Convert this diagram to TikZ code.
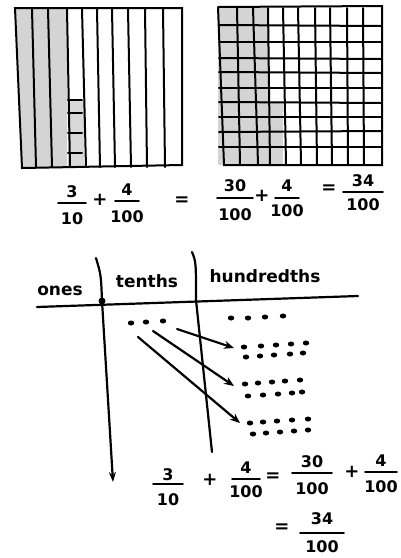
\documentclass[tikz,border=0pt]{standalone}
\usepackage{fontspec}
\setmainfont{DejaVu Sans}
\usetikzlibrary{arrows.meta,shapes.geometric}
\newcommand\myfrac[8]{%
  \node[fr] (#1n) at (#2,#3) {#7};
  \node[fr] (#1d) at (#2,#5) {#8};
  \draw[thin ink] (#2-#6,#4) -- (#2+#6,#4);}
\begin{document}
\begin{tikzpicture}[x=1pt,y=-1pt,
  ink/.style={line width=2.2pt,line cap=round,line join=round},
  grid ink/.style={line width=2pt,line cap=round},
  thin ink/.style={line width=1.8pt,line cap=round},
  shadefill/.style={fill=black!17},
  fr/.style={font=\fontsize{16}{16}\selectfont\bfseries,inner sep=0pt},
  op/.style={font=\fontsize{18}{18}\selectfont\bfseries,inner sep=0pt},
  lbl/.style={font=\fontsize{17}{17}\selectfont\bfseries,inner sep=0pt},
  dot/.style={ellipse,fill=black,inner sep=0pt,minimum width=6.5pt,minimum height=5pt},
  arr/.style={ink,-{Stealth[length=10pt,width=8pt]}}]
\useasboundingbox[fill=white] (0,0) rectangle (400,558);

% ---- left square: tenths ----
\fill[shadefill] (15,8) -- (67,8) -- (67,168) -- (22,168) -- cycle;
\fill[black!15] (68,100) rectangle (84,167);
\draw[grid ink] (15,8) -- (182,8) -- (182,165) -- (22,168) -- cycle;
\foreach \x/\b in {32/36,48/52,67/70,82/86,97/100,112/115,128/131,145/147,163/165}
  \draw[grid ink] (\x,9) -- (\b,167);
\foreach \y in {100,113,133,153}
  \draw[grid ink] (68,\y) -- (82,\y);

% ---- right square: hundredths ----
\fill[shadefill] (218,7) rectangle (268,165);
\fill[shadefill] (268,102) rectangle (283,165);
\draw[grid ink] (218,7) -- (382,6) -- (382,165) -- (224,165) -- (218,7);
\foreach \x/\b in {237/240,253/258,268/270,283/286,298/301,315/317,330/332,347/348,363/364}
  \draw[grid ink] (\x,8) -- (\b,164);
\foreach \y/\c in {25/26,42/42,58/59,72/73,88/88,102/103,117/117,132/131,147/147}
  \draw[grid ink] (219,\y) -- (381,\c);

% ---- top equation ----
\myfrac{a}{72}{192}{203}{219}{14}{3}{10}
\node[op] (p1) at (100,200) {+};
\myfrac{b}{127}{190}{201}{217}{12}{4}{100}
\node[op] (e1) at (182,201) {=};
\myfrac{c}{235}{186}{198}{215}{18}{30}{100}
\node[op] (p2) at (262,196) {+};
\myfrac{d}{287}{186}{198}{211}{12}{4}{100}
\node[op] (e2) at (329,189) {=};
\myfrac{e}{363}{181}{192}{205}{20}{34}{100}

% ---- place value chart ----
\coordinate (hl) at (37,307);
\coordinate (hr) at (358,296);
\draw[ink] (hl) -- (hr);
\coordinate (v1t) at (96,258);
\coordinate (v1b) at (113,482);
\draw[ink,-{Stealth[length=10pt,width=7pt,open]}] (v1t) .. controls (101,275) .. (102,301) -- (v1b);
\coordinate (v2t) at (192,252);
\coordinate (v2b) at (212,452);
\draw[ink] (v2t) .. controls (196,262) .. (196,300) -- (v2b);
\node[circle,fill=black,inner sep=0pt,minimum size=7pt] (origin) at (102,301) {};

\node[lbl] (ones) at (60,291) {ones};
\node[lbl] (tenths) at (147,281) {tenths};
\node[lbl] (hund) at (265,276) {hundredths};

% tenths dots
\node[dot] (t1) at (131,323) {};
\node[dot] (t2) at (146,322) {};
\node[dot] (t3) at (163,321) {};
% hundredths top row
\foreach \x/\y [count=\i] in {231/318,248/318,265/317,283/316}
  \node[dot] (h\i) at (\x,\y) {};
% group 1
\foreach \x/\y [count=\i] in {244/347,261/346,276/345,291/344,306/343,246/357,260/356,274/355,290/354,303/353}
  \node[dot] (ga\i) at (\x,\y) {};
% group 2
\foreach \x/\y [count=\i] in {245/384,258/383,272/382,285/381,300/380,248/396,263/395,278/394,292/393,302/392}
  \node[dot] (gb\i) at (\x,\y) {};
% group 3
\foreach \x/\y [count=\i] in {250/423,263/422,277/421,292/420,308/419,253/434,266/433,280/432,294/431,308/430}
  \node[dot] (gc\i) at (\x,\y) {};

% arrows
\coordinate (a1s) at (177,329);
\coordinate (a1e) at (234,348);
\coordinate (a2s) at (153,331);
\coordinate (a2e) at (234,386);
\coordinate (a3s) at (138,337);
\coordinate (a3e) at (240,423);
\draw[arr] (a1s) -- (a1e);
\draw[arr] (a2s) -- (a2e);
\draw[arr] (a3s) -- (a3e);

% ---- bottom equation ----
\myfrac{f}{168}{475}{484}{500}{15}{3}{10}
\node[op] (p3) at (210,480) {+};
\myfrac{g}{246}{468}{479}{492}{14}{4}{100}
\node[op] (e3) at (273,477) {=};
\myfrac{h}{312}{462}{473}{489}{20}{30}{100}
\node[op] (p4) at (352,472) {+};
\myfrac{i}{381}{461}{472}{487}{16}{4}{100}
\node[op] (e4) at (282,528) {=};
\myfrac{j}{322}{519}{533}{547}{22}{34}{100}
\end{tikzpicture}
\end{document}
